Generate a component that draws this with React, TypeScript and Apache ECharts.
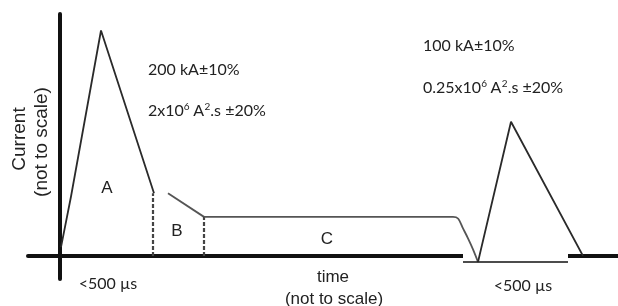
import React, { useEffect, useRef } from 'react';
import * as echarts from 'echarts';

// Axis extents (time and current are "not to scale": arbitrary units)
const timeRange = [-32, 558];
const currentRange = [-21, 220];

// Waveform components [time, current]
const strokeA = [[1, 8], [11, 54], [41, 205], [94, 57]];
const dividerAB = [[93, 0], [93, 57]];
const strokeB = [[108, 57], [144, 35.5]];
const dividerBC = [[144, 0], [144, 35.5]];
const continuingC = [[144, 35.5], [393, 35.5], [398, 34], [403, 25], [408, 16], [413, 6], [418, -5.5]];
const strokeD = [[418, -5.5], [451, 122], [523, 0]];
const insetBox = [[403, -5.5], [508, 128]];
const insetBase = [[403, -5.5], [508, -5.5]];

// Texts
const peakA = '200 kA±10%';
const actionA = '2x10{s|6} A{s|2}.s ±20%';
const peakD = '100 kA±10%';
const actionD = '0.25x10{s|6} A{s|2}.s ±20%';
const componentNames = ['A', 'B', 'C', 'D'];
const durationLabel = '<500 µs';
const yTitle = ['Current', '(not to scale)'];
const xTitle = ['time', '(not to scale)'];

const INK = '#2a2a2a';
const CAL = 'Lato, "Open Sans", sans-serif';
const ARI = '"Liberation Sans", Arial, sans-serif';

export default function App() {
  const ref = useRef<HTMLDivElement>(null);
  useEffect(() => {
    if (!ref.current) return;
    const chart = echarts.init(ref.current, null, { renderer: 'svg' });
    const lineSeries = (data: number[][], opts: any = {}) => ({
      type: 'line',
      data,
      symbol: 'none',
      silent: true,
      z: 3,
      lineStyle: { color: INK, width: 1.8, ...(opts.lineStyle || {}) },
      ...opts.extra,
    });
    const calText = (text: string, x: number, y: number, size = 16) => ({
      type: 'text',
      x,
      y,
      style: {
        text,
        fill: '#222',
        font: `${size}px ${CAL}`,
        textAlign: 'left',
        textVerticalAlign: 'middle',
        rich: { s: { fontSize: 10, fontFamily: CAL, fill: '#222', verticalAlign: 'top', lineHeight: 10 } },
      },
    });
    const ariText = (text: string, x: number, y: number, size: number, rotation = 0) => ({
      type: 'text',
      x,
      y,
      rotation,
      style: {
        text,
        fill: '#222',
        font: `${size}px ${ARI}`,
        textAlign: 'center',
        textVerticalAlign: 'middle',
      },
    });
    chart.setOption({
      animation: false,
      grid: { left: 28, right: 0, top: 14, bottom: 27 },
      xAxis: {
        type: 'value',
        min: timeRange[0],
        max: timeRange[1],
        axisLine: { onZero: true, lineStyle: { color: '#111', width: 4 } },
        axisTick: { show: false },
        axisLabel: { show: false },
        splitLine: { show: false },
      },
      yAxis: {
        type: 'value',
        min: currentRange[0],
        max: currentRange[1],
        axisLine: { show: true, onZero: true, lineStyle: { color: '#111', width: 4 } },
        axisTick: { show: false },
        axisLabel: { show: false },
        splitLine: { show: false },
      },
      series: [
        {
          type: 'line',
          data: [],
          z: 2,
          silent: true,
          markArea: {
            silent: true,
            itemStyle: { color: '#ffffff' },
            label: { show: false },
            data: [[{ coord: insetBox[0] }, { coord: insetBox[1] }]],
          },
        },
        lineSeries(strokeA),
        lineSeries(dividerAB, { lineStyle: { type: [4, 2], width: 2.2, color: '#444' } }),
        lineSeries(strokeB, { lineStyle: { color: '#555' } }),
        lineSeries(dividerBC, { lineStyle: { type: [4, 2], width: 2.2, color: '#444' } }),
        lineSeries(continuingC, { lineStyle: { color: '#555' }, extra: { smooth: 0.3 } }),
        lineSeries(insetBase, { lineStyle: { color: '#111', width: 1.6 } }),
        lineSeries(strokeD),
      ],
      graphic: [
        calText(peakA, 148, 68),
        calText(actionA, 148, 109),
        calText(peakD, 423, 44),
        calText(actionD, 423, 86),
        ariText(componentNames[0], 107, 187, 17),
        ariText(componentNames[1], 177, 230, 17),
        ariText(componentNames[2], 327, 238, 17),
        ariText(componentNames[3], 523, 213, 17),
        {
          type: 'text', x: 108, y: 282,
          style: { text: durationLabel, fill: '#222', font: `16px ${CAL}`, textAlign: 'center', textVerticalAlign: 'middle' },
        },
        {
          type: 'text', x: 523, y: 284,
          style: { text: durationLabel, fill: '#222', font: `16px ${CAL}`, textAlign: 'center', textVerticalAlign: 'middle' },
        },
        ariText(xTitle[0], 333, 276, 17),
        ariText(xTitle[1], 334, 298, 17),
        ariText(yTitle[0], 18, 139, 19, Math.PI / 2),
        ariText(yTitle[1], 40, 142, 19, Math.PI / 2),
      ],
    });
    return () => chart.dispose();
  }, []);
  return <div ref={ref} style={{ position: 'fixed', left: 0, top: 0, width: 618, height: 306 }} />;
}
